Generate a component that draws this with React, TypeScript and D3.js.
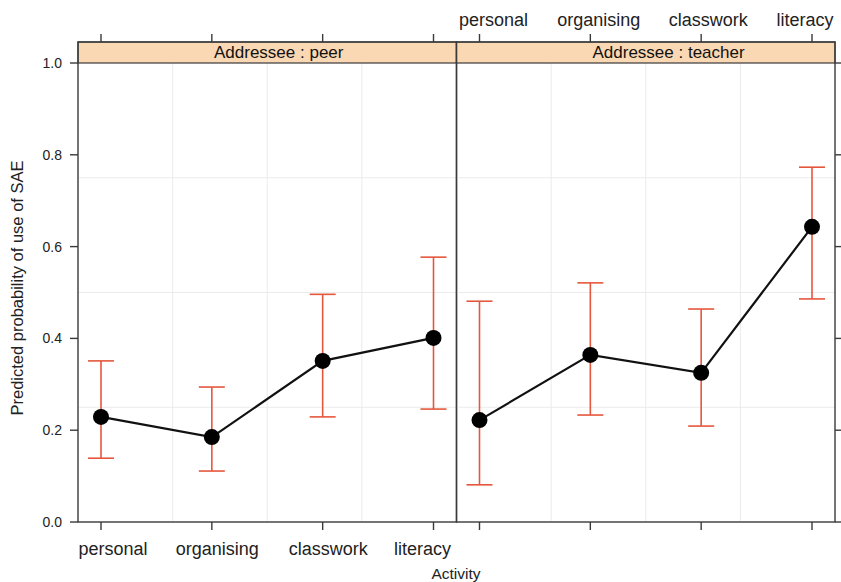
import * as d3 from 'd3';

const categories = ['personal', 'organising', 'classwork', 'literacy'];
const panels = ['peer', 'teacher'];
const peerFit = [0.229, 0.185, 0.351, 0.401];
const peerLower = [0.139, 0.111, 0.229, 0.246];
const peerUpper = [0.351, 0.294, 0.496, 0.577];
const teacherFit = [0.222, 0.364, 0.325, 0.643];
const teacherLower = [0.081, 0.233, 0.209, 0.486];
const teacherUpper = [0.481, 0.521, 0.464, 0.773];
const yTicks = [0, 0.2, 0.4, 0.6, 0.8, 1.0];
const yGrid = [0.25, 0.5, 0.75];

const W = 841;
const H = 582;
const panelLeft = 78;
const panelWidth = 378.5;
const plotTop = 63;
const plotBottom = 522;
const stripTop = 42;
const font = 'Liberation Sans, Arial, Helvetica, sans-serif';
const errColor = '#e5573c';
const frame = '#3a3a3a';
// tick labels sit a little off their ticks in the original
const bottomShift = [12, 5.5, 5.5, -11];
const topShift = [14, 8.5, 7, -7];

export default function App() {
  const y = d3.scaleLinear().domain([0, 1]).range([plotBottom, plotTop]);
  const series = [
    { fit: peerFit, lower: peerLower, upper: peerUpper },
    { fit: teacherFit, lower: teacherLower, upper: teacherUpper },
  ];

  return (
    <svg width={W} height={H} style={{ position: 'absolute', left: 0, top: 0 }} fontFamily={font}>
      <rect width={W} height={H} fill="#fff" />
      {panels.map((p, pi) => {
        const x0 = panelLeft + pi * panelWidth;
        const x = d3
          .scalePoint()
          .domain(categories)
          .range([x0 + 23, x0 + panelWidth - 23]);
        const s = series[pi];
        const line = d3
          .line<number>()
          .x((_, i) => x(categories[i]) as number)
          .y((d) => y(d));
        const shift = pi === 0 ? bottomShift : topShift;
        return (
          <g key={p}>
            {/* grid */}
            {yGrid.map((g) => (
              <line key={g} x1={x0} x2={x0 + panelWidth} y1={y(g)} y2={y(g)} stroke="#ebebeb" strokeWidth={1} />
            ))}
            {[1, 2, 3].map((k) => (
              <line
                key={k}
                x1={x0 + (panelWidth * k) / 4}
                x2={x0 + (panelWidth * k) / 4}
                y1={plotTop}
                y2={plotBottom}
                stroke="#ebebeb"
                strokeWidth={1}
              />
            ))}
            {/* error bars */}
            {categories.map((c, i) => {
              const cx = x(c) as number;
              return (
                <g key={c} stroke={errColor} strokeWidth={1.6}>
                  <line x1={cx} x2={cx} y1={y(s.lower[i])} y2={y(s.upper[i])} />
                  <line x1={cx - 13} x2={cx + 13} y1={y(s.lower[i])} y2={y(s.lower[i])} />
                  <line x1={cx - 13} x2={cx + 13} y1={y(s.upper[i])} y2={y(s.upper[i])} />
                </g>
              );
            })}
            <path d={line(s.fit) || ''} fill="none" stroke="#111" strokeWidth={2.2} />
            {categories.map((c, i) => (
              <circle key={c} cx={x(c) as number} cy={y(s.fit[i])} r={8} fill="#000" />
            ))}
            {/* strip */}
            <rect x={x0} y={stripTop} width={panelWidth} height={plotTop - stripTop} fill="#fad8b4" stroke={frame} strokeWidth={1.2} />
            <text x={x0 + 136} y={plotTop - 5} fontSize={17} fill="#111">
              {`Addressee : ${p}`}
            </text>
            {/* frame */}
            <rect x={x0} y={stripTop} width={panelWidth} height={plotBottom - stripTop} fill="none" stroke={frame} strokeWidth={1.4} />
            {/* x ticks top and bottom */}
            {categories.map((c) => {
              const cx = x(c) as number;
              return (
                <g key={c} stroke={frame} strokeWidth={1.4}>
                  <line x1={cx} x2={cx} y1={stripTop} y2={stripTop - 8} />
                  <line x1={cx} x2={cx} y1={plotBottom} y2={plotBottom + 8} />
                </g>
              );
            })}
            {categories.map((c, i) => (
              <text
                key={c}
                x={(x(c) as number) + shift[i]}
                y={pi === 0 ? 555 : 26}
                textAnchor="middle"
                fontSize={18}
                fill="#222"
              >
                {c}
              </text>
            ))}
          </g>
        );
      })}
      {/* y axis ticks left and right */}
      {yTicks.map((t) => (
        <g key={t}>
          <line x1={panelLeft - 8} x2={panelLeft} y1={y(t)} y2={y(t)} stroke={frame} strokeWidth={1.4} />
          <line
            x1={panelLeft + 2 * panelWidth}
            x2={panelLeft + 2 * panelWidth + 8}
            y1={y(t)}
            y2={y(t)}
            stroke={frame}
            strokeWidth={1.4}
          />
          <text x={panelLeft - 16} y={y(t) + 5} textAnchor="end" fontSize={14} fill="#222">
            {d3.format('.1f')(t)}
          </text>
        </g>
      ))}
      <text
        transform={`translate(23, 288) rotate(-90)`}
        textAnchor="middle"
        fontSize={16.5}
        fill="#222"
      >
        Predicted probability of use of SAE
      </text>
      <text x={456} y={579} textAnchor="middle" fontSize={15.5} fill="#222">
        Activity
      </text>
    </svg>
  );
}
